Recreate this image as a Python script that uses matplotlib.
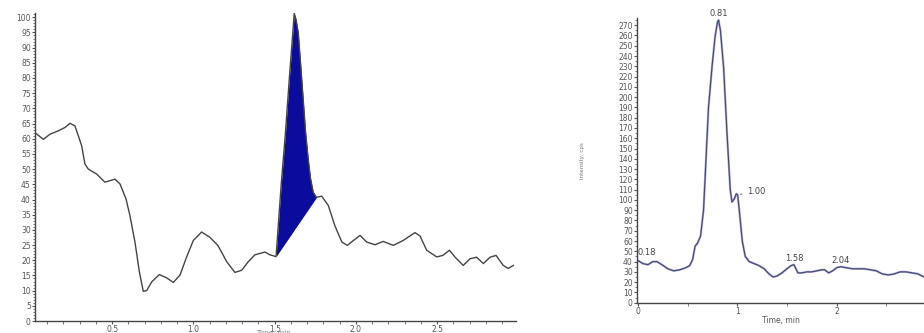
import numpy as np
import matplotlib
matplotlib.use("Agg")
from matplotlib import pyplot as plt
from matplotlib.ticker import MultipleLocator, FormatStrFormatter

# left chromatogram (relative intensity, %)
left_time = [0.025, 0.076, 0.117, 0.168, 0.209, 0.24, 0.271, 0.312, 0.332, 0.353, 0.404, 0.455,
             0.486, 0.517, 0.548, 0.585, 0.609, 0.64, 0.667, 0.691, 0.712, 0.743, 0.79, 0.835,
             0.876, 0.917, 0.958, 0.999, 1.05, 1.10, 1.15, 1.205, 1.255, 1.297, 1.337, 1.378,
             1.44, 1.47, 1.508, 1.52, 1.54, 1.566, 1.59, 1.61, 1.62, 1.632, 1.645, 1.66, 1.675,
             1.69, 1.706, 1.72, 1.737, 1.757, 1.789, 1.83, 1.87, 1.913, 1.947, 1.984, 2.025,
             2.066, 2.117, 2.168, 2.23, 2.29, 2.363, 2.394, 2.435, 2.497, 2.534, 2.575, 2.61,
             2.66, 2.702, 2.742, 2.784, 2.825, 2.862, 2.906, 2.937, 2.968]
left_signal = [62.0, 59.8, 61.5, 62.6, 63.7, 65.1, 64.2, 57.7, 51.7, 50.0, 48.4, 45.7,
               46.2, 46.7, 45.1, 40.2, 34.7, 26.0, 16.2, 9.8, 10.0, 12.9, 15.3, 14.2,
               12.7, 15.1, 21.1, 26.5, 29.3, 27.6, 24.9, 19.5, 16.0, 16.7, 19.5, 21.8,
               22.7, 21.8, 21.2, 30.0, 45.0, 62.0, 80.0, 94.0, 101.3, 99.0, 94.8, 84.0, 73.0,
               62.0, 53.3, 47.0, 42.4, 40.7, 41.1, 38.0, 31.4, 26.0, 24.9, 26.5, 28.2,
               26.0, 25.1, 26.2, 24.9, 26.5, 29.1, 28.0, 23.3, 21.1, 21.6, 23.3, 21.0,
               18.3, 20.5, 21.0, 18.9, 21.0, 21.6, 18.3, 17.3, 18.3]
peak_start, peak_end = 1.508, 1.757

# right chromatogram (Intensity, cps)
right_time = [0.00, 0.05, 0.10, 0.15, 0.19, 0.24, 0.30, 0.36, 0.42, 0.48, 0.52, 0.55, 0.575,
              0.60, 0.63, 0.66, 0.685, 0.71, 0.745, 0.775, 0.80, 0.811, 0.83, 0.862, 0.896,
              0.929, 0.946, 0.97, 0.99, 1.003, 1.02, 1.05, 1.08, 1.12, 1.17, 1.22, 1.27, 1.32,
              1.36, 1.40, 1.45, 1.50, 1.54, 1.57, 1.61, 1.65, 1.70, 1.75, 1.80, 1.85, 1.88,
              1.92, 1.96, 2.00, 2.04, 2.10, 2.16, 2.22, 2.28, 2.34, 2.40, 2.46, 2.52, 2.58,
              2.64, 2.70, 2.76, 2.82, 2.88]
right_signal = [41, 38, 37, 40, 40, 37, 33, 31, 32, 34, 36, 42, 55,
                58, 65, 90, 140, 190, 229, 258, 273, 275, 265, 229, 165,
                110, 98, 101, 106, 105, 90, 60, 45, 40, 38, 36, 33, 28,
                25, 26, 29, 33, 36, 37, 29, 29, 30, 30, 31, 32, 32,
                29, 31, 34, 35, 34, 33, 33, 33, 32, 31, 28, 27, 28,
                30, 30, 29, 28, 25]
peak_labels = ["0.18", "0.81", "1.00", "1.58", "2.04"]
peak_times = [0.18, 0.811, 1.003, 1.57, 2.04]
peak_heights = [41, 275, 105, 37, 35]

fig = plt.figure(figsize=(9.24, 3.33), dpi=100)

# ---- left panel
ax1 = fig.add_axes([0.0379, 0.0360, 0.5206, 0.925])
ax1.plot(left_time, left_signal, color="#444444", lw=1.0, zorder=3)
t = np.array(left_time)
s = np.array(left_signal)
inside = (t >= peak_start) & (t <= peak_end)
base = np.interp(t, [peak_start, peak_end],
                 [np.interp(peak_start, t, s), np.interp(peak_end, t, s)])
ax1.fill_between(t, base, s, where=inside, color="#0b0b9e", lw=0, zorder=2)
ax1.set_xlim(0.025, 2.985)
ax1.set_ylim(0, 101.4)
ax1.xaxis.set_major_locator(MultipleLocator(0.5))
ax1.xaxis.set_minor_locator(MultipleLocator(0.1))
ax1.xaxis.set_major_formatter(FormatStrFormatter("%.1f"))
ax1.yaxis.set_major_locator(MultipleLocator(5))
ax1.yaxis.set_minor_locator(MultipleLocator(1))
ax1.text(0.495, -0.028, "Time, min", transform=ax1.transAxes, ha="center", va="top",
         fontsize=5, color="#888888")

# ---- right panel
ax2 = fig.add_axes([0.6894, 0.091, 0.3106, 0.855])
ax2.plot(right_time, right_signal, color="#aaaae6", lw=1.6, zorder=2)
ax2.plot(right_time, right_signal, color="#474760", lw=0.8, zorder=3)
ax2.set_xlim(-0.01, 2.88)
ax2.set_ylim(0, 277)
ax2.xaxis.set_major_locator(MultipleLocator(1))
ax2.xaxis.set_minor_locator(MultipleLocator(0.5))
ax2.xaxis.set_major_formatter(FormatStrFormatter("%d"))
ax2.yaxis.set_major_locator(MultipleLocator(10))
ax2.yaxis.set_minor_locator(MultipleLocator(5))
ax2.set_xlabel("Time, min", fontsize=5.5, color="#555555", labelpad=0)
ax2.set_ylabel("Intensity, cps", fontsize=4, color="#777777", labelpad=24)

for lab, xt, yh in zip(peak_labels, peak_times, peak_heights):
    if lab == "1.00":
        ax2.annotate(lab, (xt, yh), xytext=(xt + 0.1, yh + 3), fontsize=6,
                     color="#444444", va="center", ha="left",
                     arrowprops=dict(arrowstyle="-", color="#444444", lw=0.6))
    elif lab == "0.18":
        ax2.text(0.0, yh + 3, lab, fontsize=6, color="#444444", ha="left", va="bottom")
    else:
        ax2.text(xt, yh + 2, lab, fontsize=6, color="#444444", ha="center", va="bottom")

for ax in (ax1, ax2):
    for side in ("top", "right"):
        ax.spines[side].set_visible(False)
    for side in ("left", "bottom"):
        ax.spines[side].set_color("#444444")
        ax.spines[side].set_linewidth(1.0)
    ax.tick_params(axis="both", which="major", direction="out", length=2.5, width=0.8,
                   colors="#555555", labelsize=5.5, pad=0.5)
    ax.tick_params(axis="both", which="minor", direction="out", length=1.8, width=0.6,
                   colors="#666666")

fig.savefig("out.png", dpi=100)
